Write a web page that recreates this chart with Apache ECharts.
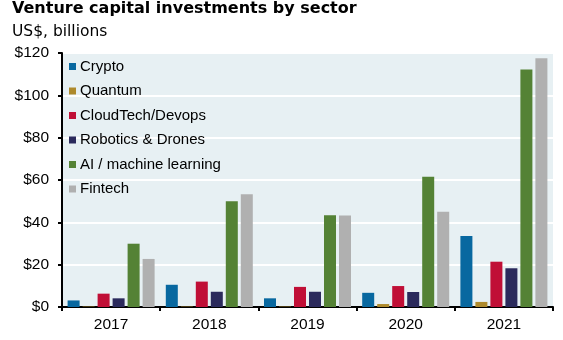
<!DOCTYPE html>
<html>
<head>
<meta charset="utf-8">
<script src="https://cdn.jsdelivr.net/npm/echarts@6/dist/echarts.min.js"></script>
<style>
html,body{margin:0;padding:0;background:#fff;}
#chart{width:563px;height:340px;}
</style>
</head>
<body>
<div id="chart"></div>
<script>
var categories = ['2017', '2018', '2019', '2020', '2021'];
var seriesNames = ['Crypto', 'Quantum', 'CloudTech/Devops', 'Robotics & Drones', 'AI / machine learning', 'Fintech'];
var cryptoVals = [3.1, 10.5, 4.1, 6.7, 33.5];
var quantumVals = [0.2, 0.2, 0.2, 1.4, 2.4];
var cloudTechVals = [6.3, 12.0, 9.5, 9.9, 21.4];
var roboticsVals = [4.1, 7.2, 7.2, 7.1, 18.3];
var aiMLVals = [29.9, 50.0, 43.3, 61.5, 112.2];
var fintechVals = [22.7, 53.3, 43.2, 45.0, 117.5];
var yTicks = [0, 20, 40, 60, 80, 100, 120];

var seriesData = [cryptoVals, quantumVals, cloudTechVals, roboticsVals, aiMLVals, fintechVals];
var colors = ['#0868a0', '#ae8a2c', '#c00f36', '#2b2a5c', '#548235', '#b0b0b0'];

var chart = echarts.init(document.getElementById('chart'), null, {renderer: 'canvas'});
var FONT = '"Liberation Sans", Arial, sans-serif';
chart.setOption({
  animation: false,
  color: colors,
  title: [
    {text: 'Venture capital investments by sector', left: 12, top: 1, padding: 0,
     textStyle: {fontFamily: '"DejaVu Sans", sans-serif', fontWeight: 'bold', fontSize: 16, color: '#000'}},
    {text: 'US$, billions', left: 12, top: 24, padding: 0,
     textStyle: {fontFamily: '"DejaVu Sans", sans-serif', fontWeight: 'normal', fontSize: 15.5, color: '#000'}}
  ],
  legend: {
    orient: 'vertical', left: 69, top: 59, padding: 0,
    icon: 'rect', itemWidth: 7, itemHeight: 7, itemGap: 9.5,
    textStyle: {fontFamily: FONT, fontSize: 15, color: '#000', padding: [0, 0, 0, -1]},
    data: seriesNames
  },
  grid: {left: 62, right: 10, top: 53, bottom: 33, show: true, backgroundColor: '#e7f0f3', borderWidth: 0},
  xAxis: {
    type: 'category', data: categories,
    axisLine: {lineStyle: {color: '#000', width: 2}},
    axisTick: {show: true, length: 4, lineStyle: {color: '#000', width: 2}},
    axisLabel: {fontFamily: FONT, fontSize: 15.5, color: '#000', margin: 10}
  },
  yAxis: {
    type: 'value', min: yTicks[0], max: yTicks[yTicks.length - 1], interval: 20,
    axisLine: {show: true, lineStyle: {color: '#000', width: 2}},
    axisTick: {show: true, length: 4, lineStyle: {color: '#000', width: 2}},
    splitLine: {show: true, lineStyle: {color: '#ffffff', width: 2}},
    axisLabel: {fontFamily: FONT, fontSize: 15.5, color: '#000', margin: 13,
      formatter: function (v) { return '$' + v; }}
  },
  series: seriesNames.map(function (n, i) {
    return {name: n, type: 'bar', data: seriesData[i], barWidth: 12, barGap: '25%'};
  })
});
</script>
</body>
</html>
